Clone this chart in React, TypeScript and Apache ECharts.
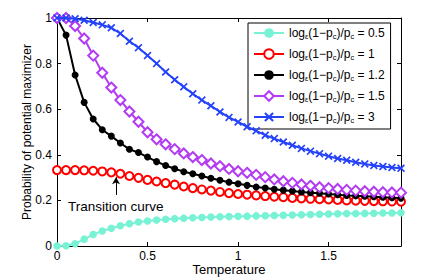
import React, { useEffect, useRef } from "react";
import * as echarts from "echarts";

const temperatures = [
  0, 0.05, 0.1, 0.15, 0.2, 0.25, 0.3, 0.35, 0.4, 0.45, 0.5, 0.55, 0.6, 0.65, 0.7, 0.75, 0.8, 0.85, 0.9, 0.95, 1.0,
  1.05, 1.1, 1.15, 1.2, 1.25, 1.3, 1.35, 1.4, 1.45, 1.5, 1.55, 1.6, 1.65, 1.7, 1.75, 1.8, 1.85, 1.9,
];

const ratio05 = [
  0, 0.001, 0.01, 0.03, 0.05, 0.066, 0.078, 0.089, 0.098, 0.105, 0.11, 0.114, 0.117, 0.12, 0.122, 0.124, 0.125, 0.127,
  0.128, 0.129, 0.13, 0.131, 0.132, 0.133, 0.134, 0.135, 0.136, 0.137, 0.138, 0.139, 0.14, 0.141, 0.142, 0.142, 0.143,
  0.144, 0.145, 0.145, 0.146,
];
const ratio1 = [
  0.333, 0.333, 0.333, 0.332, 0.33, 0.327, 0.323, 0.317, 0.307, 0.299, 0.29, 0.283, 0.276, 0.269, 0.261, 0.254, 0.248,
  0.243, 0.237, 0.232, 0.228, 0.225, 0.222, 0.219, 0.216, 0.214, 0.211, 0.209, 0.207, 0.205, 0.204, 0.202, 0.2, 0.199,
  0.198, 0.197, 0.196, 0.195, 0.194,
];
const ratio12 = [
  1, 0.925, 0.75, 0.63, 0.557, 0.51, 0.482, 0.452, 0.424, 0.41, 0.39, 0.37, 0.353, 0.339, 0.326, 0.317, 0.307, 0.297,
  0.288, 0.28, 0.273, 0.266, 0.259, 0.254, 0.249, 0.245, 0.241, 0.237, 0.234, 0.231, 0.228, 0.225, 0.222, 0.22, 0.218,
  0.216, 0.214, 0.212, 0.21,
];
const ratio15 = [
  1, 1, 0.965, 0.91, 0.835, 0.76, 0.695, 0.64, 0.59, 0.545, 0.499, 0.468, 0.446, 0.425, 0.406, 0.39, 0.377, 0.362, 0.35,
  0.338, 0.328, 0.321, 0.312, 0.302, 0.292, 0.284, 0.277, 0.27, 0.264, 0.258, 0.254, 0.25, 0.246, 0.243, 0.24, 0.238,
  0.236, 0.235, 0.234,
];
const ratio3 = [
  1, 1, 0.997, 0.99, 0.98, 0.97, 0.957, 0.932, 0.898, 0.87, 0.835, 0.8, 0.763, 0.729, 0.698, 0.668, 0.64, 0.615, 0.588,
  0.564, 0.544, 0.523, 0.505, 0.486, 0.471, 0.456, 0.442, 0.428, 0.416, 0.405, 0.394, 0.384, 0.376, 0.367, 0.36, 0.353,
  0.349, 0.344, 0.341,
];

const ratioLabels = ["0.5", "1", "1.2", "1.5", "3"];
const xTicks = [0, 0.5, 1, 1.5];
const yTicks = [0, 0.2, 0.4, 0.6, 0.8, 1];

const FONT = "Liberation Sans, Arial, Helvetica, sans-serif";
const CROSS = "path://M0,1.5 L1.5,0 L5,3.5 L8.5,0 L10,1.5 L6.5,5 L10,8.5 L8.5,10 L5,6.5 L1.5,10 L0,8.5 L3.5,5 Z";

export default function App() {
  const ref = useRef<HTMLDivElement>(null);
  useEffect(() => {
    if (!ref.current) return;
    const chart = echarts.init(ref.current, undefined, { renderer: "svg" });
    const pairs = (ys: number[]) => temperatures.map((t, i) => [t, ys[i]]);
    const names = ratioLabels.map((r) => `log_e(1-p_c)/p_c = ${r}`);
    const seriesDefs = [
      { ys: ratio05, color: "#78F2D4", symbol: "circle", size: 7.5, border: 0 },
      { ys: ratio1, color: "#FF0000", symbol: "emptyCircle", size: 8, border: 1.6 },
      { ys: ratio12, color: "#000000", symbol: "circle", size: 7, border: 0 },
      { ys: ratio15, color: "#B33CF2", symbol: "emptyDiamond", size: 10, border: 1.6 },
      { ys: ratio3, color: "#2442FA", symbol: CROSS, size: 8, border: 0 },
    ];
    const series: any[] = seriesDefs.map((d, i) => ({
      name: names[i],
      type: "line",
      data: pairs(d.ys),
      symbol: d.symbol,
      symbolSize: d.size,
      showAllSymbol: true,
      lineStyle: { color: d.color, width: 2 },
      itemStyle: { color: d.color, borderColor: d.color, borderWidth: d.border },
      z: 3 + i,
    }));
    series[1].markLine = {
      silent: true,
      symbol: ["none", "arrow"],
      symbolSize: [6, 7],
      lineStyle: { color: "#000", width: 1, type: "solid" },
      label: { show: false },
      data: [[{ coord: [0.326, 0.224] }, { coord: [0.326, 0.302] }]],
    };
    const axisCommon = {
      type: "value" as const,
      nameMoveOverlap: false,
      axisLine: { show: true, onZero: false, lineStyle: { color: "#000", width: 1 } },
      splitLine: { show: false },
    };
    chart.setOption({
      animation: false,
      backgroundColor: "#fff",
      textStyle: { fontFamily: FONT },
      grid: { left: 57, right: 42, top: 18, bottom: 31, containLabel: false, outerBoundsMode: "none" },
      legend: {
        orient: "vertical",
        left: 248,
        top: 23,
        itemWidth: 30,
        itemHeight: 12,
        itemGap: 7,
        padding: [3, 6, 5, 5],
        backgroundColor: "#fff",
        borderColor: "#000",
        borderWidth: 1,
        borderRadius: 0,
        data: names,
        formatter: (name: string) => {
          const r = name.split("= ")[1];
          return `{n|log}{s|ε}{n|(1−p}{s|c}{n|)/p}{s|c}{n| = ${r}}`;
        },
        textStyle: {
          fontFamily: FONT,
          color: "#000",
          rich: {
            n: { fontSize: 12, fontFamily: FONT, color: "#000", lineHeight: 12 },
            s: { fontSize: 7.5, fontFamily: FONT, color: "#000", padding: [6, 0, 0, 0], lineHeight: 8 },
          },
        },
      },
      xAxis: [
        {
          ...axisCommon,
          position: "bottom",
          min: 0,
          max: 1.9,
          interval: 0.5,
          name: "Temperature",
          nameLocation: "middle",
          nameGap: 17,
          nameTextStyle: { fontSize: 13, color: "#000", fontFamily: FONT },
          axisTick: { show: true, inside: true, length: 4, customValues: xTicks, lineStyle: { color: "#000" } },
          axisLabel: { show: true, fontSize: 12, color: "#000", margin: 3.5, customValues: xTicks, fontFamily: FONT },
        },
        {
          ...axisCommon,
          position: "top",
          min: 0,
          max: 1.9,
          interval: 0.5,
          axisTick: { show: true, inside: true, length: 4, customValues: xTicks, lineStyle: { color: "#000" } },
          axisLabel: { show: false },
        },
      ],
      yAxis: [
        {
          ...axisCommon,
          position: "left",
          min: 0,
          max: 1,
          interval: 0.2,
          name: "Probability of potential maximizer",
          nameLocation: "middle",
          nameGap: 24,
          nameTextStyle: { fontSize: 12, color: "#000", fontFamily: FONT },
          axisTick: { show: true, inside: true, length: 4, customValues: yTicks, lineStyle: { color: "#000" } },
          axisLabel: { show: true, fontSize: 12, color: "#000", margin: 5, customValues: yTicks, fontFamily: FONT },
        },
        {
          ...axisCommon,
          position: "right",
          min: 0,
          max: 1,
          interval: 0.2,
          axisTick: { show: true, inside: true, length: 4, customValues: yTicks, lineStyle: { color: "#000" } },
          axisLabel: { show: false },
        },
      ],
      graphic: [
        {
          type: "text",
          left: 68,
          top: 199,
          style: { text: "Transition curve", fontSize: 13.5, fontFamily: FONT, fill: "#000" },
          z: 10,
        },
      ],
      series,
    });
    return () => chart.dispose();
  }, []);
  return <div ref={ref} style={{ position: "absolute", left: 0, top: 0, width: 443, height: 277 }} />;
}
